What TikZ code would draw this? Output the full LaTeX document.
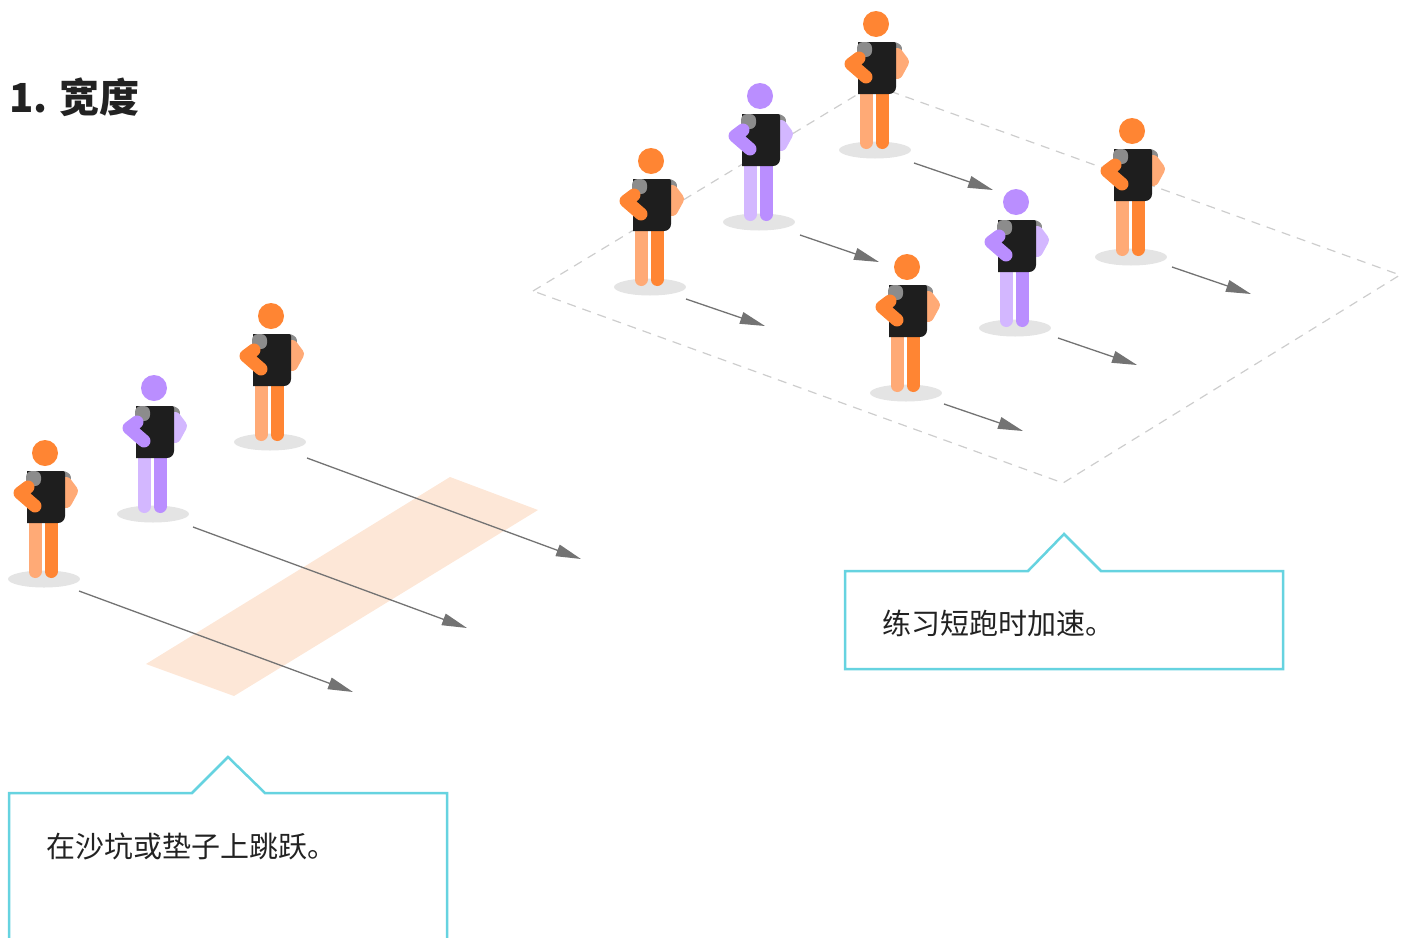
\documentclass[tikz,border=0pt]{standalone}
\usepackage{fontspec}
\usepackage{tikz}
\usetikzlibrary{arrows.meta}
\newfontfamily\cjk{Noto Sans CJK SC}

\definecolor{runorange}{RGB}{255,133,51}
\definecolor{runorangelt}{RGB}{255,170,118}
\definecolor{runpurple}{RGB}{186,142,255}
\definecolor{runpurplelt}{RGB}{211,183,255}
\definecolor{shirt}{RGB}{30,30,30}
\definecolor{sleeve}{RGB}{140,140,140}
\definecolor{groundshadow}{RGB}{228,228,228}
\definecolor{pathgray}{RGB}{115,115,115}
\definecolor{fieldline}{RGB}{205,205,205}
\definecolor{sandpit}{RGB}{253,231,215}
\definecolor{tipcyan}{RGB}{102,211,224}
\definecolor{textgray}{RGB}{34,34,34}

\tikzset{
  run/.style={draw=pathgray, line width=1.3pt, -{Triangle[length=25pt, width=12pt]}},
  field/.style={draw=fieldline, line width=1.2pt, dash pattern=on 9pt off 7pt},
  tipbox/.style={draw=tipcyan, line width=2.5pt, line join=miter},
  tiptext/.style={anchor=base west, inner sep=0pt, text=textgray,
    font=\cjk\fontsize{29}{34}\selectfont}
}

% one athlete standing at (#1,#2); #3 main colour, #4 light colour
\newcommand{\athlete}[4]{
  \begin{scope}[shift={(#1,#2)}]
    \fill[groundshadow] (0,0) ellipse [x radius=36pt, y radius=8.5pt];
    \draw[line width=13pt, line cap=round, #4] (-9,-60) -- (-9,-7.5);
    \draw[line width=13pt, line cap=round, #3] (7,-60) -- (7,-7.5);
    \draw[line width=12pt, line cap=round, sleeve] (19,-102) -- (21,-101);
    \draw[line width=12pt, line cap=round, line join=round, #4] (22,-96) -- (28,-88) -- (22,-77);
    \fill[shirt] (-17,-56) -- (-17,-108) -- (19,-108) arc[start angle=90, end angle=0, radius=2pt]
      -- (21,-63) arc[start angle=0, end angle=-90, radius=7pt] -- cycle;
    \fill[sleeve, rounded corners=6pt] (-18,-108) rectangle (-3,-93);
    \draw[line width=13pt, line cap=round, line join=round, #3] (-16,-92) -- (-24,-86) -- (-9,-73);
    \fill[#3] (1,-126) circle (13pt);
  \end{scope}}

\begin{document}
\begin{tikzpicture}[x=1pt, y=-1pt]
  \useasboundingbox (0,0) rectangle (1402,937);

  \node[anchor=base west, inner sep=0pt, text=textgray,
    font=\cjk\bfseries\fontsize{40}{48}\selectfont] (title) at (9,112) {1. 宽度};

  % playing field and sand pit
  \draw[field] (533,291) -- (873,85) -- (1400,275) -- (1063,483) -- cycle;
  \fill[sandpit] (146,664) -- (234,696) -- (538,510) -- (450,477) -- cycle;

  % run directions
  \foreach \n/\xa/\ya in {l1/79/591, l2/193/527, l3/307/458}{
    \coordinate (\n s) at (\xa,\ya);
    \coordinate (\n e) at (\xa+274,\ya+101);
    \draw[run] (\n s) -- (\n e);}
  \foreach \n/\xa/\ya in {r1/686/299, r2/800/235, r3/914/163, r4/944/404, r5/1058/338, r6/1172/267}{
    \coordinate (\n s) at (\xa,\ya);
    \coordinate (\n e) at (\xa+79,\ya+27);
    \draw[run] (\n s) -- (\n e);}

  % athletes, back row first
  \foreach \x/\y/\c/\l in {875/150/runorange/runorangelt, 759/222/runpurple/runpurplelt,
      1131/257/runorange/runorangelt, 650/287/runorange/runorangelt,
      1015/328/runpurple/runpurplelt, 906/393/runorange/runorangelt,
      270/442/runorange/runorangelt, 153/514/runpurple/runpurplelt,
      44/579/runorange/runorangelt}{
    \athlete{\x}{\y}{\c}{\l}}

  % callouts
  \draw[tipbox] (845,571) -- (1028,571) -- (1064,534) -- (1101,571) -- (1283,571)
    -- (1283,669) -- (845,669) -- cycle;
  \node[tiptext] (sprint) at (882,634) {练习短跑时加速。};

  \draw[tipbox] (9,960) -- (9,793) -- (192,793) -- (228,757) -- (265,793) -- (447,793) -- (447,960);
  \node[tiptext] (jump) at (46,857) {在沙坑或垫子上跳跃。};
\end{tikzpicture}
\end{document}
